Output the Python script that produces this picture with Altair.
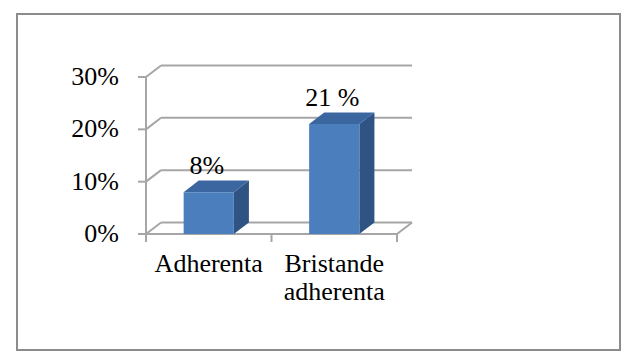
import altair as alt
import pandas as pd

# ---- data ----
categories = ["Adherenta", "Bristande\nadherenta"]
values = [8, 21]
value_labels = ["8%", "21 %"]
y_ticks = [0, 10, 20, 30]
y_tick_labels = ["0%", "10%", "20%", "30%"]

# ---- 3D styling constants (category units / percent units) ----
W = 0.2
DX = 0.12
DY = 2.2

idx = list(range(len(categories)))
bars = pd.DataFrame({"i": idx, "cat": categories, "v": values, "lab": value_labels})
ticks = pd.DataFrame({"t": y_ticks, "lab": y_tick_labels})
cat_edges = pd.DataFrame({"e": [-0.5 + k for k in range(len(categories) + 1)]})

side_rows, top_rows = [], []
for i, v in zip(idx, values):
    side_rows += [{"i": i, "x": i + W, "top": v, "bot": 0},
                  {"i": i, "x": i + W + DX, "top": v + DY, "bot": DY}]
    top_rows += [{"i": i, "y": v, "xl": i - W, "xr": i + W},
                 {"i": i, "y": v + DY, "xl": i - W + DX, "xr": i + W + DX}]
side = pd.DataFrame(side_rows)
topf = pd.DataFrame(top_rows)

XS = alt.Scale(domain=[-0.5, 1.5], range=[129, 380])
YS = alt.Scale(domain=[0, 30], range=[220, 63])
GRID = "#a6a6a6"
FONT = "Liberation Serif"
FS = 26


def X(f, **kw):
    return alt.X(f, type="quantitative", scale=XS, axis=None, **kw)


def Y(f, **kw):
    return alt.Y(f, type="quantitative", scale=YS, axis=None, **kw)


base_t = alt.Chart(ticks)

grid = base_t.mark_rule(color=GRID, strokeWidth=2).transform_calculate(
    xa=f"{-0.5 + DX}", xb=f"{1.5 + DX}", yb=f"datum.t + {DY}"
).encode(x=X("xa:Q"), x2="xb:Q", y=Y("yb:Q"))

diag = base_t.mark_rule(color=GRID, strokeWidth=2).transform_calculate(
    xa="-0.5", xb=f"{-0.5 + DX}", yb=f"datum.t + {DY}"
).encode(x=X("xa:Q"), x2="xb:Q", y=Y("t:Q"), y2="yb:Q")

yt = base_t.mark_rule(color=GRID, strokeWidth=2, x2Offset=-8).transform_calculate(
    xa="-0.5"
).encode(x=X("xa:Q"), x2="xa:Q", y=Y("t:Q"))

yaxis = alt.Chart(pd.DataFrame({"a": [y_ticks[0]], "b": [y_ticks[-1]]})).mark_rule(
    color=GRID, strokeWidth=2
).encode(x=alt.X(datum=-0.5, type="quantitative", scale=XS, axis=None), y=Y("a:Q"), y2="b:Q")

floor = alt.Chart(pd.DataFrame({"xa": [-0.5, 1.5], "xb": [1.5, 1.5 + DX],
                                "ya": [0, 0], "yb": [0, DY]})).mark_rule(
    color=GRID, strokeWidth=2
).encode(x=X("xa:Q"), x2="xb:Q", y=Y("ya:Q"), y2="yb:Q")

xt = alt.Chart(cat_edges).mark_rule(color=GRID, strokeWidth=2, y2Offset=8).encode(
    x=X("e:Q"), y=alt.Y(datum=0, type="quantitative", scale=YS, axis=None),
    y2=alt.Y2(datum=0)
)

front = alt.Chart(bars).mark_rect(color="#4a7ebd").transform_calculate(
    xl=f"datum.i - {W}", xr=f"datum.i + {W}", z="0"
).encode(x=X("xl:Q"), x2="xr:Q", y=Y("z:Q"), y2="v:Q")

sidef = alt.Chart(side).mark_area(color="#2f5484", opacity=1).encode(
    x=X("x:Q"), y=Y("top:Q"), y2="bot:Q", detail="i:N"
)

topface = alt.Chart(topf).mark_area(color="#3b66a0", orient="horizontal", opacity=1).encode(
    y=Y("y:Q"), x=X("xl:Q"), x2="xr:Q", detail="i:N"
)

ylab = base_t.mark_text(align="right", baseline="middle", fontSize=FS, font=FONT,
                        dx=-27).transform_calculate(xa="-0.5").encode(
    x=X("xa:Q"), y=Y("t:Q"), text="lab:N"
)

xlab = alt.Chart(bars).mark_text(align="center", baseline="top", fontSize=FS, font=FONT,
                                 dy=17, lineBreak="\n", lineHeight=28).encode(
    x=X("i:Q"), y=alt.Y(datum=0, type="quantitative", scale=YS, axis=None), text="cat:N"
)

vlab = alt.Chart(bars).mark_text(align="center", baseline="middle", fontSize=FS, font=FONT,
                                 dy=-26, dx=-2).encode(
    x=X("i:Q"), y=Y("v:Q"), text="lab:N"
)

chart = alt.layer(grid, diag, yaxis, yt, floor, xt, sidef, topface, front, ylab, xlab, vlab).properties(
    width=603, height=336,
    autosize=alt.AutoSizeParams(type="none"),
    padding={"left": 17, "top": 14, "right": 14, "bottom": 12},
    background="white",
).configure(
    font=FONT,
    view=alt.ViewConfig(stroke="#8c8c8c", strokeWidth=2),
    text=alt.MarkConfig(font=FONT, fontSize=FS, color="#000000"),
)

chart.save("out.html", embed_options={"renderer": "svg", "actions": False})
